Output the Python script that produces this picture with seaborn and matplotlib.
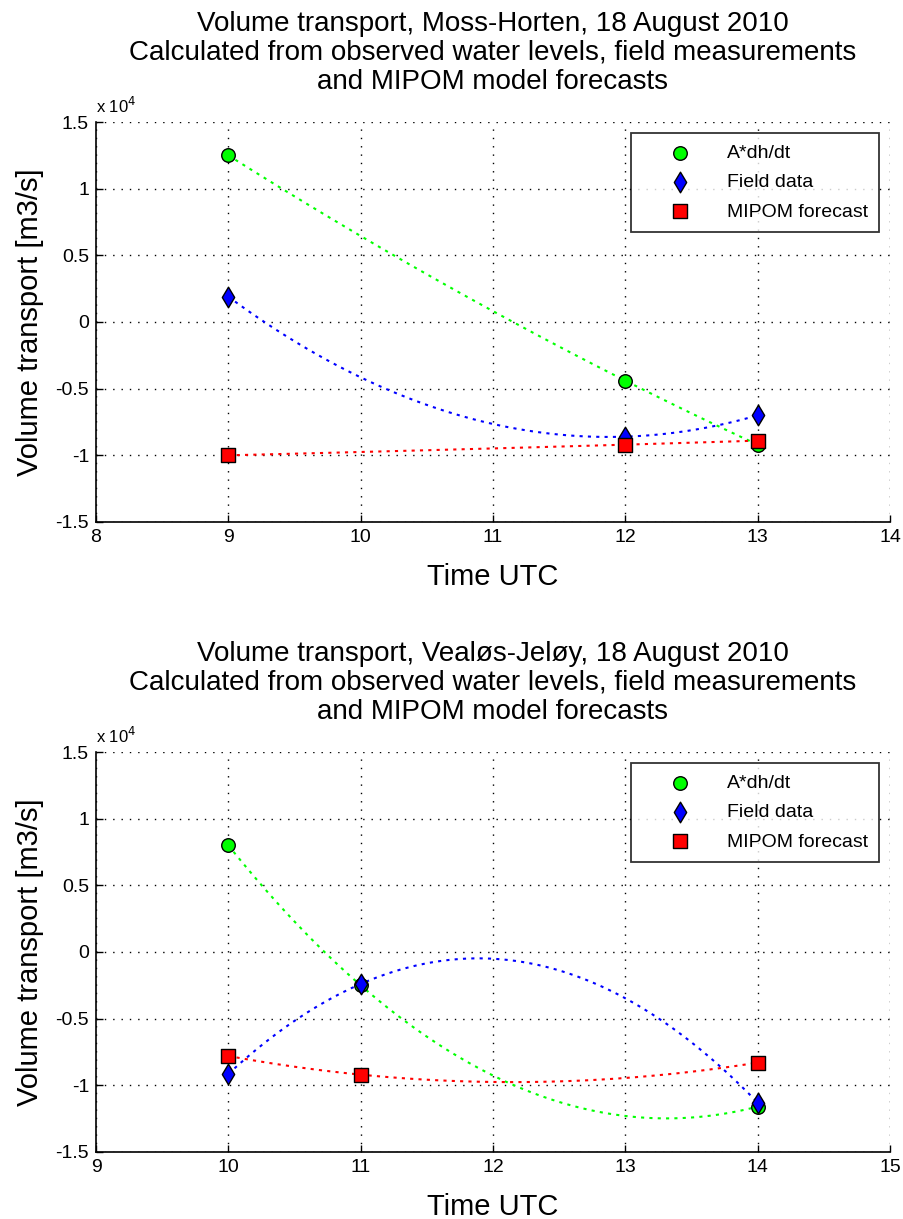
import numpy as np
import pandas as pd
import matplotlib
matplotlib.use("Agg")
import matplotlib.pyplot as plt
from matplotlib.ticker import FuncFormatter
import seaborn as sns

# --- data ---
hours_top = [9, 12, 13]
adhdt_top = [12500, -4400, -9200]
field_top = [1900, -8600, -7000]
mipom_top = [-10000, -9200, -8900]

hours_bot = [10, 11, 14]
adhdt_bot = [8000, -2500, -11600]
field_bot = [-9150, -2400, -11300]
mipom_bot = [-7800, -9200, -8300]

titles = [
    "Volume transport, Moss-Horten, 18 August 2010\n"
    "Calculated from observed water levels, field measurements\n"
    "and MIPOM model forecasts",
    "Volume transport, Vealøs-Jeløy, 18 August 2010\n"
    "Calculated from observed water levels, field measurements\n"
    "and MIPOM model forecasts",
]
xlims = [(8, 14), (9, 15)]
series_names = ["A*dh/dt", "Field data", "MIPOM forecast"]
colors = ["#00ff00", "#0000ff", "#ff0000"]
markers = ["o", "d", "s"]
msizes = [95, 110, 90]

sns.set_style("white")
plt.rcParams["font.family"] = ["Liberation Sans", "DejaVu Sans"]
plt.rcParams["text.color"] = "black"
plt.rcParams["axes.labelcolor"] = "black"

fig = plt.figure(figsize=(9.04, 12.19), dpi=100)
ax_top = fig.add_axes([0.1062, 0.5718, 0.8783, 0.3281])
ax_bot = fig.add_axes([0.1062, 0.0550, 0.8783, 0.3281])

panels = [
    (ax_top, hours_top, [adhdt_top, field_top, mipom_top]),
    (ax_bot, hours_bot, [adhdt_bot, field_bot, mipom_bot]),
]

for i, (ax, hours, values) in enumerate(panels):
    # smooth dotted curves through the points (quadratic fit through 3 points)
    for vals, col in zip(values, colors):
        df = pd.DataFrame({"hour": hours, "q": vals})
        sns.regplot(data=df, x="hour", y="q", ax=ax, order=2, ci=None,
                    scatter=False, color=col,
                    line_kws={"linestyle": (0, (1.5, 2.5)), "linewidth": 1.5, "zorder": 2})
    # markers
    for vals, col, mk, ms, name in zip(values, colors, markers, msizes, series_names):
        df = pd.DataFrame({"hour": hours, "q": vals})
        sns.scatterplot(data=df, x="hour", y="q", ax=ax, color=col, marker=mk,
                        s=ms, edgecolor="black", linewidth=1.0, label=name, zorder=3)

    ax.set_xlim(*xlims[i])
    ax.set_ylim(-15000, 15000)
    ax.set_xticks(np.arange(xlims[i][0], xlims[i][1] + 1, 1))
    ax.set_yticks(np.arange(-15000, 15001, 5000))
    ax.yaxis.set_major_formatter(FuncFormatter(lambda v, p: "%g" % (v / 1e4)))
    ax.grid(True, color="black", linestyle=(0, (1, 5)), linewidth=1.0)
    ax.set_axisbelow(True)
    for side in ["top", "right"]:
        ax.spines[side].set_visible(False)
    for side in ["left", "bottom"]:
        ax.spines[side].set_color("black")
        ax.spines[side].set_linewidth(1.2)
    ax.tick_params(direction="in", length=5, width=1, labelsize=14,
                   colors="black", pad=5, left=True, bottom=True)
    ax.set_xlabel("Time UTC", fontsize=21, labelpad=12)
    ax.set_ylabel("Volume transport [m3/s]", fontsize=21, labelpad=8)
    ax.set_title(titles[i], fontsize=20, pad=24, linespacing=1.15)
    ax.text(0.0, 1.015, r"x 10$^{4}$", transform=ax.transAxes, fontsize=12,
            ha="left", va="bottom")
    leg = ax.legend(loc="upper right", bbox_to_anchor=(1.0, 1.0), fontsize=14,
                    frameon=True, fancybox=False, edgecolor="black",
                    borderpad=0.6, labelspacing=0.6, handlelength=3.8,
                    handletextpad=0.5, borderaxespad=0.55)
    leg.get_frame().set_linewidth(1.3)

fig.savefig("out.png", dpi=100)
